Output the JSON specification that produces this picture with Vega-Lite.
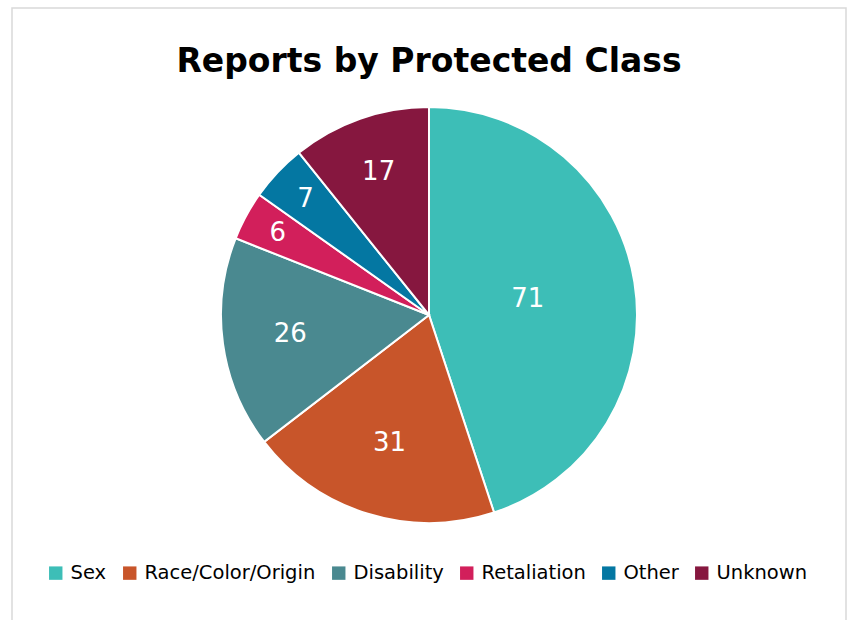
{
  "$schema": "https://vega.github.io/schema/vega-lite/v6.json",
  "autosize": {"type": "none"},
  "width": 834,
  "height": 614,
  "padding": {"left": 12, "top": 8, "right": 2, "bottom": 0},
  "background": "white",
  "view": {"stroke": "#D9D9D9", "strokeWidth": 1.5, "fill": "white"},
  "config": {
    "font": "DejaVu Sans"
  },
  "title": {
    "text": "Reports by Protected Class",
    "font": "DejaVu Sans",
    "fontSize": 33,
    "fontWeight": "bold",
    "color": "#000000",
    "anchor": "middle",
    "frame": "group",
    "baseline": "alphabetic",
    "offset": -97
  },
  "data": {
    "values": [
      {"category": "Sex", "value": 71, "idx": 1},
      {"category": "Race/Color/Origin", "value": 31, "idx": 2},
      {"category": "Disability", "value": 26, "idx": 3},
      {"category": "Retaliation", "value": 6, "idx": 4},
      {"category": "Other", "value": 7, "idx": 5},
      {"category": "Unknown", "value": 17, "idx": 6}
    ]
  },
  "encoding": {
    "theta": {"field": "value", "type": "quantitative", "stack": true},
    "order": {"field": "idx", "type": "quantitative", "sort": "ascending"}
  },
  "layer": [
    {
      "mark": {"type": "arc", "outerRadius": 208, "stroke": "white", "strokeWidth": 2},
      "encoding": {
        "color": {
          "field": "category",
          "type": "nominal",
          "sort": ["Sex", "Race/Color/Origin", "Disability", "Retaliation", "Other", "Unknown"],
          "scale": {
            "domain": ["Sex", "Race/Color/Origin", "Disability", "Retaliation", "Other", "Unknown"],
            "range": ["#3DBEB7", "#C8552A", "#4A8990", "#D21F5B", "#0477A2", "#86173F"]
          },
          "legend": {
            "title": null,
            "orient": "none",
            "direction": "horizontal",
            "legendX": 34,
            "legendY": 555,
            "symbolType": "square",
            "symbolSize": 180,
            "symbolStrokeWidth": 0,
            "symbolOpacity": 1,
            "labelFont": "DejaVu Sans",
            "labelFontSize": 19.5,
            "labelLimit": 400,
            "labelColor": "#000000",
            "labelOffset": 5,
            "columnPadding": 13
          }
        }
      }
    },
    {
      "mark": {"type": "text", "color": "white", "font": "DejaVu Sans", "fontSize": 26, "align": "center", "baseline": "middle"},
      "encoding": {
        "text": {"field": "value", "type": "quantitative"},
        "radius": {
          "field": "value",
          "type": "quantitative",
          "scale": {"type": "sqrt", "zero": false, "domain": [6, 71], "range": [172, 100]}
        }
      }
    }
  ]
}
